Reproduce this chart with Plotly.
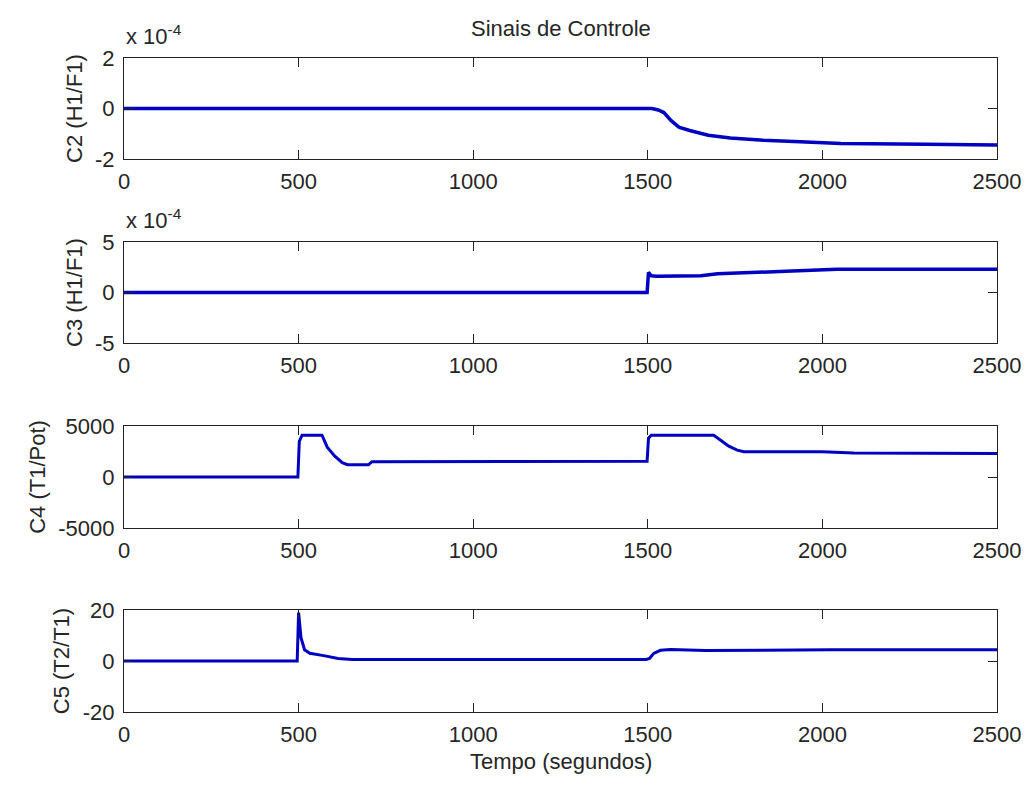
import plotly.graph_objects as go
from plotly.subplots import make_subplots

# ---- data ----
t_c2 = [0, 1512, 1530, 1546, 1567, 1589, 1620, 1673, 1736, 1831, 1936, 2053, 2295, 2500]
v_c2 = [0, 0, -0.06e-4, -0.16e-4, -0.48e-4, -0.74e-4, -0.87e-4, -1.06e-4, -1.17e-4,
        -1.26e-4, -1.32e-4, -1.39e-4, -1.42e-4, -1.45e-4]

t_c3 = [0, 1498, 1502, 1510, 1525, 1652, 1700, 1736, 1800, 1895, 2042, 2500]
v_c3 = [0, 0, 2.0e-4, 1.65e-4, 1.6e-4, 1.65e-4, 1.85e-4, 1.9e-4, 2.05e-4, 2.1e-4, 2.3e-4, 2.3e-4]

t_c4 = [0, 498, 502, 510, 567, 582, 603, 625, 640, 700, 710, 1498, 1502, 1510,
        1689, 1708, 1732, 1756, 1775, 2000, 2090, 2500]
v_c4 = [0, 0, 3500, 4100, 4100, 2930, 2070, 1400, 1200, 1200, 1500, 1550, 3800, 4100,
        4100, 3600, 3030, 2630, 2470, 2470, 2350, 2300]

t_c5 = [0, 496, 500, 503, 507, 517, 532, 572, 613, 653, 1495, 1505, 1517, 1536,
        1565, 1665, 2027, 2500]
v_c5 = [0, 0, 19, 14, 9, 4.4, 3.0, 2.1, 1.0, 0.6, 0.6, 1.0, 3.0, 4.2, 4.5, 4.1, 4.4, 4.4]

x_ticks = [0, 500, 1000, 1500, 2000, 2500]
y_labels = ["C2 (H1/F1)", "C3 (H1/F1)", "C4 (T1/Pot)", "C5 (T2/T1)"]
y_ranges = [[-2e-4, 2e-4], [-5e-4, 5e-4], [-5000, 5000], [-20, 20]]
y_tickvals = [[-2e-4, 0, 2e-4], [-5e-4, 0, 5e-4], [-5000, 0, 5000], [-20, 0, 20]]
y_ticktext = [["-2", "0", "2"], ["-5", "0", "5"], ["-5000", "0", "5000"], ["-20", "0", "20"]]
title_text = "Sinais de Controle"
xlabel_text = "Tempo (segundos)"

W, H = 1026, 785
L, R, T, B = 124, 997, 58, 712
panels_px = [(58, 159), (242, 343), (426, 528), (610, 712)]

fig = make_subplots(rows=4, cols=1)
line_color = "#0000c0"
FONT = "Liberation Sans, Arial, sans-serif"
FS = 22
TXT = "#262626"

series = [(t_c2, v_c2, 3.5), (t_c3, v_c3, 3.5), (t_c4, v_c4, 3), (t_c5, v_c5, 3)]
for i, (t, v, w) in enumerate(series):
    fig.add_trace(go.Scatter(x=t, y=v, mode="lines",
                             line=dict(color=line_color, width=w), showlegend=False),
                  row=i + 1, col=1)

plot_h = B - T

def py(pix):
    return 1 - (pix - T) / plot_h

for i in range(4):
    top, bot = panels_px[i]
    xa = "xaxis" if i == 0 else f"xaxis{i+1}"
    ya = "yaxis" if i == 0 else f"yaxis{i+1}"
    fig.layout[xa].update(domain=[0, 1], range=[0, 2500], tickvals=x_ticks,
                          ticktext=[str(v) for v in x_ticks], automargin=False,
                          showline=True, linecolor="#222", linewidth=1.3, mirror="ticks",
                          ticks="inside", ticklen=9, tickcolor="#222", tickwidth=1.3,
                          showgrid=False, zeroline=False,
                          tickfont=dict(family=FONT, size=FS, color=TXT),
                          ticklabelstandoff=2)
    fig.layout[ya].update(domain=[max(0, py(bot)), min(1, py(top))], range=y_ranges[i],
                          tickvals=y_tickvals[i],
                          ticktext=y_ticktext[i], automargin=False,
                          showline=True, linecolor="#222", linewidth=1.3, mirror="ticks",
                          ticks="inside", ticklen=9, tickcolor="#222", tickwidth=1.3,
                          showgrid=False, zeroline=False,
                          tickfont=dict(family=FONT, size=FS, color=TXT),
                          ticklabelstandoff=4,
                          title=dict(text=y_labels[i], standoff=6,
                                     font=dict(family=FONT, size=FS, color=TXT)))

fig.update_layout(
    width=W, height=H,
    margin=dict(l=L, r=W - R, t=T, b=H - B, autoexpand=False),
    paper_bgcolor="white", plot_bgcolor="white",
    showlegend=False,
)

ann = [
    dict(text=title_text, x=0.5, xref="paper", y=py(28), yref="paper", yanchor="middle",
         showarrow=False, font=dict(family=FONT, size=FS, color=TXT)),
    dict(text=xlabel_text, x=0.5, xref="paper", y=py(762), yref="paper", yanchor="middle",
         showarrow=False, font=dict(family=FONT, size=FS, color=TXT)),
    dict(text="x 10<sup>-4</sup>", x=0, xref="paper", xanchor="left", y=py(35), yref="paper",
         yanchor="middle", showarrow=False, font=dict(family=FONT, size=FS, color=TXT)),
    dict(text="x 10<sup>-4</sup>", x=0, xref="paper", xanchor="left", y=py(219), yref="paper",
         yanchor="middle", showarrow=False, font=dict(family=FONT, size=FS, color=TXT)),
]
fig.update_layout(annotations=ann)

fig.write_html("out.html",
               config={"displayModeBar": False},
               post_script="document.body.style.margin='0';"
                           "document.body.style.overflow='hidden';")
